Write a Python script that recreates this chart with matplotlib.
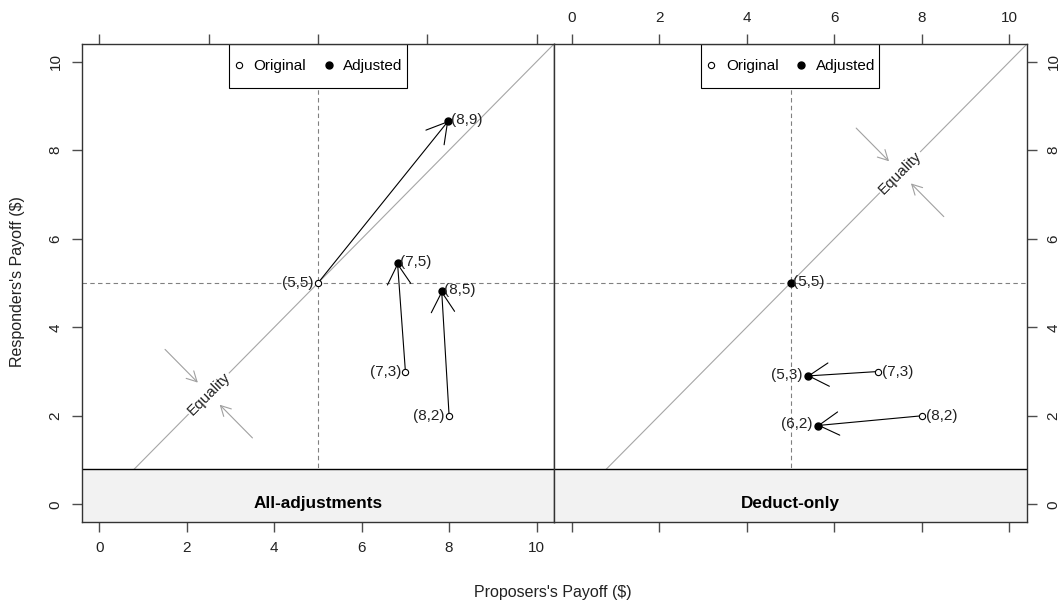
import matplotlib
matplotlib.use("Agg")
import matplotlib.pyplot as plt
from matplotlib.patches import Rectangle
from matplotlib.lines import Line2D

plt.rcParams['font.family'] = ['Liberation Sans', 'DejaVu Sans']

# data
panels = ["All-adjustments", "Deduct-only"]
orig_x = [5, 7, 8]
orig_y = [5, 3, 2]
orig_lab = ["(5,5)", "(7,3)", "(8,2)"]
all_x = [7.98, 6.82, 7.83]
all_y = [8.66, 5.45, 4.82]
all_lab = ["(8,9)", "(7,5)", "(8,5)"]
ded_x = [5.0, 5.39, 5.62]
ded_y = [5.0, 2.9, 1.78]
ded_lab = ["(5,5)", "(5,3)", "(6,2)"]
eq_pos = [2.5, 7.5]          # where "Equality" sits on the diagonal
ticks = [0, 2, 4, 6, 8, 10]
top_ticks_left = [0, 2.5, 5, 7.5, 10]

LO, HI = -0.4, 10.4
STRIP_TOP = 0.8
GREY = "#4d4d4d"
FS = 11

fig = plt.figure(figsize=(10.63, 6.03), dpi=100)
axL = fig.add_axes([82/1063, 81/603, 472/1063, 478/603])
axR = fig.add_axes([554/1063, 81/603, 473/1063, 478/603])


def draw_panel(ax, adj_x, adj_y, adj_lab, strip, eq, orig_side, adj_side):
    ax.set_xlim(LO, HI)
    ax.set_ylim(LO, HI)
    ax.plot([LO, HI], [LO, HI], color="#a6a6a6", lw=0.8, zorder=1)
    ax.axvline(5, color="#808080", lw=0.8, ls=(0, (4, 3)), zorder=1)
    ax.axhline(5, color="#808080", lw=0.8, ls=(0, (4, 3)), zorder=1)

    # equality label with arrows pointing at the diagonal
    ax.text(eq, eq, "Equality", rotation=45, ha="center", va="center",
            fontsize=FS, color="#222222", rotation_mode="anchor", zorder=2,
            bbox=dict(facecolor="white", edgecolor="none", pad=1))
    for dx in (-1, 1):
        ax.annotate("", xy=(eq + 0.25 * dx, eq - 0.25 * dx),
                    xytext=(eq + dx, eq - dx),
                    arrowprops=dict(arrowstyle="->,head_length=0.6,head_width=0.32",
                                    mutation_scale=12, color="#a0a0a0", lw=0.8,
                                    shrinkA=0, shrinkB=0), zorder=2)

    for i in range(len(orig_x)):
        ox, oy, ax_, ay = orig_x[i], orig_y[i], adj_x[i], adj_y[i]
        same = abs(ox - ax_) < 1e-9 and abs(oy - ay) < 1e-9
        if not same:
            ax.annotate("", xy=(ax_, ay), xytext=(ox, oy),
                        arrowprops=dict(arrowstyle="->,head_length=0.72,head_width=0.42",
                                        mutation_scale=20, color="black", lw=0.8,
                                        shrinkA=0, shrinkB=0), zorder=4)
            ax.plot(ox, oy, "o", mfc="white", mec="black", ms=4.5, mew=0.8, zorder=5)
            off = 3 if orig_side == "left" else -3
            ax.annotate(orig_lab[i], (ox, oy), xytext=(-off, 0), textcoords="offset points",
                        ha="right" if orig_side == "left" else "left", va="center",
                        fontsize=FS, color="#222222", zorder=6)
        ax.plot(ax_, ay, "o", color="black", ms=5, zorder=5)
        lab_side = adj_side if not same else "right"
        ax.annotate(adj_lab[i], (ax_, ay),
                    xytext=(2 if lab_side == "right" else -4, 1), textcoords="offset points",
                    ha="left" if lab_side == "right" else "right", va="center",
                    fontsize=FS, color="#222222", zorder=6)

    # strip at the bottom of the panel
    ax.add_patch(Rectangle((LO, LO), HI - LO, STRIP_TOP - LO, facecolor="#f2f2f2",
                           edgecolor="none", zorder=7))
    ax.plot([LO, HI], [STRIP_TOP, STRIP_TOP], color="black", lw=1, zorder=8)
    ax.text(5, 0.02, strip, ha="center", va="center", fontsize=12.3,
            fontweight="bold", color="black", zorder=9)

    # key box drawn by hand, entries from a frameless legend
    ax.add_patch(Rectangle((0.311, 0.908), 0.377, 0.092, transform=ax.transAxes,
                           facecolor="white", edgecolor="black", lw=0.8, zorder=10))
    handles = [Line2D([], [], ls="none", marker="o", mfc="white", mec="black", ms=4.5, mew=0.8),
               Line2D([], [], ls="none", marker="o", color="black", ms=5)]
    leg = ax.legend(handles, ["Original", "Adjusted"], loc="center",
                    bbox_to_anchor=(0.4995, 0.954), ncol=2, frameon=False,
                    borderaxespad=0, borderpad=0, fontsize=FS, handlelength=0.8,
                    handletextpad=0.55, columnspacing=1.1)
    leg.set_zorder(11)

    for s in ax.spines.values():
        s.set_color("#333333")
        s.set_linewidth(1.0)
        s.set_zorder(12)


draw_panel(axL, all_x, all_y, all_lab, panels[0], eq_pos[0], "left", "right")
draw_panel(axR, ded_x, ded_y, ded_lab, panels[1], eq_pos[1], "right", "left")

tick_kw = dict(direction="out", length=7, width=1, color=GREY, labelcolor="#222222",
               labelsize=FS, pad=7)

# left panel: labels bottom and left, ticks on top
axL.set_xticks(ticks)
axL.set_yticks(ticks)
axL.tick_params(axis="both", **tick_kw)
axL.tick_params(axis="x", bottom=True, top=False, labelbottom=True)
axL.tick_params(axis="y", left=True, right=False, labelleft=True, labelrotation=90)
for lab in axL.get_yticklabels():
    lab.set_va("center")
topL = axL.secondary_xaxis("top")
topL.set_xticks(top_ticks_left)
topL.tick_params(axis="x", direction="out", length=7, width=1, color=GREY, labeltop=False)
topL.spines["top"].set_visible(False)

# right panel: labels top and right, ticks on bottom
axR.set_xticks(ticks)
axR.set_yticks(ticks)
axR.tick_params(axis="both", **tick_kw)
axR.tick_params(axis="x", bottom=True, top=True, labelbottom=False, labeltop=True)
axR.tick_params(axis="y", left=False, right=True, labelleft=False, labelright=True,
                labelrotation=90)
for lab in axR.get_yticklabels():
    lab.set_va("center")

fig.text(553/1063, 1 - 592/603, "Proposers's Payoff ($)", ha="center", va="center",
         fontsize=11.5, color="#222222")
fig.text(18/1063, 1 - 282/603, "Responders's Payoff ($)", ha="center", va="center",
         rotation=90, fontsize=11.5, color="#222222")

fig.savefig("out.png", dpi=100)
